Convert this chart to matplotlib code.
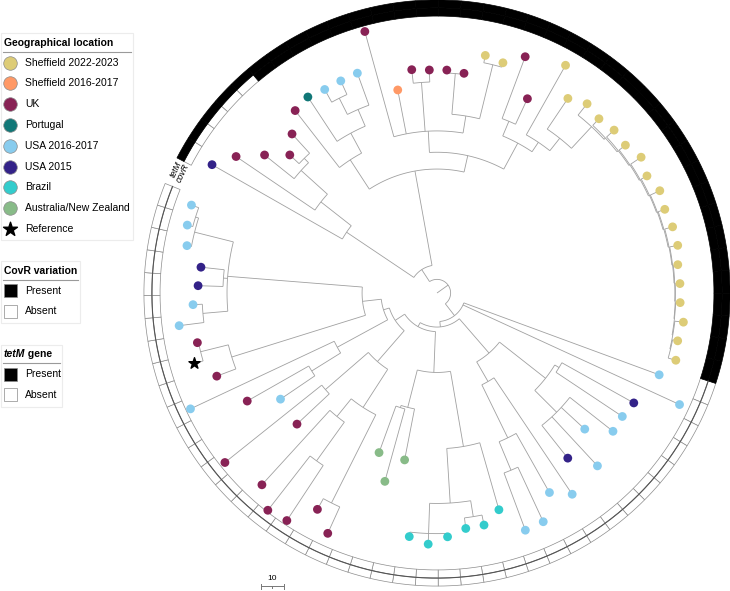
import numpy as np
import matplotlib
matplotlib.use("Agg")
import matplotlib.pyplot as plt

plt.rcParams['font.family'] = ['Liberation Sans', 'DejaVu Sans']

# ---------------- data ----------------
group_names = ['Sheffield 2022-2023', 'Sheffield 2016-2017', 'UK', 'Portugal',
               'USA 2016-2017', 'USA 2015', 'Brazil', 'Australia/New Zealand', 'Reference']
group_colors = ['#DDCC77', '#FF9966', '#882255', '#117777',
                '#88CCEE', '#332288', '#33CCCC', '#88BB88', '#000000']

# tip order (clockwise, starting after the label gap)
leaf_group = [5, 2, 2, 2, 2, 2, 3, 4, 4, 4, 2,
              1, 2, 2, 2, 2, 0, 0, 2, 2,
              0, 0, 0, 0, 0, 0, 0, 0, 0, 0, 0, 0, 0, 0, 0, 0, 0, 0,
              4, 4, 5, 4, 4, 4, 4, 5, 4, 4, 4, 4,
              6, 6, 6, 6, 6, 6,
              7, 7, 7,
              2, 2, 2, 2, 2, 2, 2, 4, 2, 4,
              2, 8, 2, 4, 4, 5, 5, 4, 4, 4]

# root-to-tip distances (tree units)
leaf_depth = [114.1, 107.0, 97.3, 88.9, 94.8, 101.8, 103.4, 102.4, 102.6, 103.0, 119.5,
              91.1, 99.0, 98.3, 98.3, 97.5, 106.8, 105.5, 111.1, 94.4,
              115.2, 103.3, 106.4, 104.8, 106.0, 105.5, 108.0, 105.9, 108.0, 106.9,
              107.8, 108.1, 106.8, 107.1, 107.2, 109.3, 108.1, 109.3,
              104.3, 117.6, 99.3, 98.1, 98.6, 88.5, 103.9, 92.8, 106.8, 100.9, 111.1, 111.5,
              99.3, 104.3, 104.5, 107.5, 110.7, 108.0,
              74.9, 86.1, 74.8,
              116.3, 108.9, 120.1, 121.3, 114.4, 84.5, 119.6, 83.3, 96.2, 120.0,
              103.7, 111.3, 107.8, 114.5, 107.6, 105.3, 104.6, 112.1, 114.0, 114.9]

covr = [0] * 5 + [1] * 33 + [0] * 41
tetm = [1] * 38 + [0] * 41

# internal nodes: first tip, last tip, depth (tree units)
clade_lo = [0, 0, 0, 1, 2, 3,
            5, 5, 6, 7, 7,
            10, 10, 12, 14, 14, 16, 18, 18, 20, 21,
            22, 23, 24, 25, 26, 27, 28, 29, 30, 31, 32, 33, 34, 35, 36,
            38, 40, 40, 40, 40, 42, 46, 47, 48,
            50, 50, 50, 51, 51, 53, 56, 57,
            59, 59, 59, 59, 61, 61, 64,
            66, 66, 66, 69, 69, 70, 72, 72, 74, 76, 77]
clade_hi = [78, 37, 4, 4, 4, 4,
            37, 9, 9, 9, 8,
            37, 17, 13, 17, 15, 17, 37, 19, 37, 37,
            37, 37, 37, 37, 37, 37, 37, 37, 37, 37, 37, 37, 37, 37, 37,
            78, 78, 49, 45, 41, 45, 49, 49, 49,
            78, 58, 55, 55, 52, 55, 58, 58,
            78, 65, 63, 60, 63, 62, 65,
            78, 68, 67, 78, 71, 71, 78, 73, 75, 78, 78]
clade_depth = [6.0, 12.3, 48.0, 65.0, 80.6, 83.3,
               54.6, 70.0, 80.0, 88.0, 96.0,
               62.0, 71.4, 93.0, 79.0, 97.0, 103.5, 75.0, 82.0, 80.0, 87.0,
               100.0, 100.8, 101.5, 102.0, 102.5, 103.0, 103.4, 103.8, 104.2, 104.5, 104.8, 105.0, 105.2, 105.5, 105.8,
               12.6, 15.0, 35.0, 60.8, 63.0, 74.4, 45.0, 71.0, 84.6,
               17.0, 35.0, 68.6, 92.7, 99.8, 106.0, 52.0, 53.0,
               22.0, 40.0, 60.0, 103.5, 70.0, 91.0, 65.0,
               24.7, 50.0, 65.0, 33.0, 94.7, 107.3, 92.5, 103.5, 94.3, 110.1, 111.5]

ring_edges = [122.0, 125.6, 129.1]   # covR inner..mid, tetM mid..outer
scale_len = 10

# ---------------- layout ----------------
W, H, DPI = 730, 591, 100
fig = plt.figure(figsize=(W / DPI, H / DPI), dpi=DPI)

cx, cy = 437, 293          # centre in pixels (from top-left)
px_per_unit = 2.27
rmax = 130.0
R = rmax * px_per_unit
ax = fig.add_axes([(cx - R) / W, (H - cy - R) / H, 2 * R / W, 2 * R / H], projection='polar')
ax.set_ylim(0, rmax)
ax.set_axis_off()

n = len(leaf_group)
start = np.deg2rad(150.3)
step = np.deg2rad(350.0 / (n - 1))
leaf_theta = start - step * np.arange(n)

# build hierarchy (each clade = contiguous tip range)
clades = []
for c in sorted(zip(clade_lo, clade_hi, clade_depth), key=lambda c: (c[1] - c[0], c[0])):
    if all((c[0], c[1]) != (a, b) for a, b, _ in clades):
        clades.append(c)

def parent_of(lo, hi, self_idx=None):
    for i, (a, b, d) in enumerate(clades):
        if i == self_idx or (self_idx is not None and (a, b) == (lo, hi)):
            continue
        if a <= lo and hi <= b:
            return i
    return None

leaf_parent = [parent_of(i, i) for i in range(n)]
clade_parent = [parent_of(a, b, i) for i, (a, b, d) in enumerate(clades)]

children = {i: [] for i in range(len(clades))}
for li, p in enumerate(leaf_parent):
    children[p].append(('L', li))
for ci, p in enumerate(clade_parent):
    if p is not None:
        children[p].append(('C', ci))

clade_theta = [None] * len(clades)
def theta_of(kind, idx):
    if kind == 'L':
        return leaf_theta[idx]
    if clade_theta[idx] is None:
        ts = [theta_of(k, j) for k, j in children[idx]]
        clade_theta[idx] = 0.5 * (min(ts) + max(ts))
    return clade_theta[idx]

line_kw = dict(color='#a0a0a0', lw=0.6, solid_capstyle='butt', zorder=2)
for ci, (a, b, d) in enumerate(clades):
    if not children[ci]:
        continue
    theta_of('C', ci)
    ts = [theta_of(k, j) for k, j in children[ci]]
    tt = np.linspace(min(ts), max(ts), 80)
    ax.plot(tt, np.full_like(tt, d), **line_kw)
    for k, j in children[ci]:
        dd = leaf_depth[j] if k == 'L' else clades[j][2]
        t = theta_of(k, j)
        ax.plot([t, t], [d, dd], **line_kw)
root = clade_parent.index(None)
ax.plot([clade_theta[root]] * 2, [0, clades[root][2]], **line_kw)

# tips
depth_arr = np.array(leaf_depth)
for g in range(len(group_names) - 1):
    idx = [i for i in range(n) if leaf_group[i] == g]
    ax.scatter(leaf_theta[idx], depth_arr[idx], s=40, color=group_colors[g],
               edgecolors='none', zorder=4)
ref = [i for i in range(n) if leaf_group[i] == 8]
ax.scatter(leaf_theta[ref], depth_arr[ref], s=70, marker='*', color='black', zorder=4)

# rings
for vals, (r0, r1) in ((covr, ring_edges[0:2]), (tetm, ring_edges[1:3])):
    for present in (0, 1):
        sel = [i for i in range(n) if vals[i] == present]
        ax.bar(leaf_theta[sel], r1 - r0, width=step, bottom=r0,
               color='black' if present else 'white',
               edgecolor='black' if present else '#8c8c8c',
               linewidth=0.5, align='center', zorder=3 + present)
absent = [i for i in range(n) if not tetm[i]]
tt = np.linspace(leaf_theta[absent[-1]] - step / 2, leaf_theta[absent[0]] + step / 2, 300)
ax.plot(tt, np.full_like(tt, ring_edges[1]), color='#555555', lw=0.8, zorder=4)

lab_t = leaf_theta[0] + step / 2 + np.deg2rad(2.2)
for lab, rr in (('covR', (ring_edges[0] + ring_edges[1]) / 2), ('tetM', (ring_edges[1] + ring_edges[2]) / 2)):
    ax.text(lab_t, rr, lab, rotation=np.rad2deg(lab_t) - 90, fontsize=6.2, style='italic',
            ha='center', va='center', rotation_mode='anchor')

# ---------------- overlay for legends / scale ----------------
ov = fig.add_axes([0, 0, 1, 1])
ov.set_xlim(0, W)
ov.set_ylim(H, 0)
ov.set_axis_off()
FS = 7.5

def legend_box(x0, y0, w, h, title, title_parts=None):
    ov.add_patch(plt.Rectangle((x0, y0), w, h, facecolor='white', edgecolor='#ececec', lw=0.8))
    if title_parts is None:
        ov.text(x0 + 3, y0 + 9.5, title, fontsize=FS, fontweight='bold', va='center')
    else:
        t = ov.text(x0 + 3, y0 + 9.5, title_parts[0], fontsize=FS, fontweight='bold',
                    style='italic', va='center')
        ov.annotate(title_parts[1], xycoords=t, xy=(1, 0.5), va='center', fontsize=FS,
                    fontweight='bold')
    ov.plot([x0 + 2, x0 + w - 2], [y0 + 18.5, y0 + 18.5], color='#9a9a9a', lw=0.8)
    return y0 + 29.5

y = legend_box(1, 33, 132, 207, 'Geographical location')
for g, (name, col) in enumerate(zip(group_names, group_colors)):
    yy = y + g * 20.8
    if g < 8:
        ov.scatter([10], [yy], s=95, color=col, edgecolors='#8a8a8a', linewidths=0.5)
    else:
        ov.scatter([10], [yy], s=110, marker='*', color='black')
    ov.text(25, yy, name, fontsize=FS, va='center')

for (y0, w, title, parts) in ((261, 79, 'CovR variation', None), (344.5, 61, '', ('tetM', ' gene'))):
    y = legend_box(1, y0, w, 62, title, title_parts=parts)
    for k, (lab, fc) in enumerate((('Present', 'black'), ('Absent', 'white'))):
        yy = y + k * 20.5
        ov.add_patch(plt.Rectangle((3.5, yy - 6.5), 13.5, 13, facecolor=fc, edgecolor='#8a8a8a', lw=0.5))
        ov.text(25, yy, lab, fontsize=FS, va='center')

# scale bar
x0 = 261
x1 = x0 + scale_len * px_per_unit
ov.plot([x0, x1], [586, 586], color='#777777', lw=0.7)
for xx in (x0, x1):
    ov.plot([xx, xx], [583.5, 588.5], color='#777777', lw=0.7)
ov.plot([(x0 + x1) / 2] * 2, [586, 588], color='#777777', lw=0.7)
ov.text((x0 + x1) / 2, 579, str(scale_len), fontsize=6, ha='center', va='center')

fig.savefig('out.png', dpi=DPI)
